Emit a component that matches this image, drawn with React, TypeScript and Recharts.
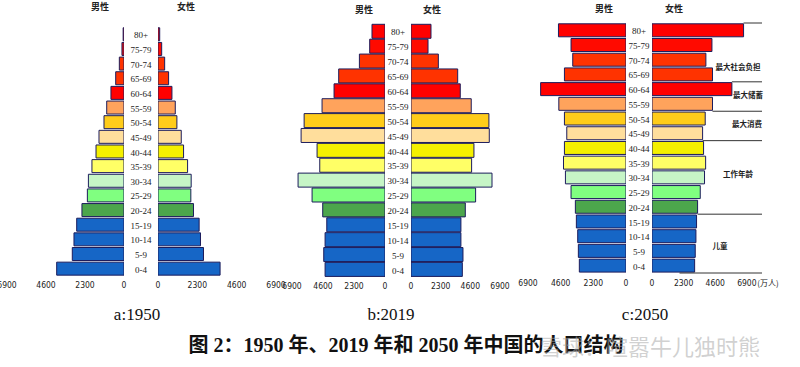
import React from "react";
import { Bar, BarChart, Cell, ReferenceLine, XAxis, YAxis } from "recharts";

// age groups, top to bottom
const ages = [
  "80+", "75-79", "70-74", "65-69", "60-64", "55-59", "50-54", "45-49", "40-44",
  "35-39", "30-34", "25-29", "20-24", "15-19", "10-14", "5-9", "0-4",
];

// 万人
const male1950 = [50, 120, 275, 490, 770, 1020, 1180, 1475, 1650, 1890, 2100, 2160, 2480, 2790, 2950, 3050, 3970];
const female1950 = [100, 215, 390, 620, 815, 1010, 1105, 1360, 1495, 1730, 1940, 1920, 2075, 2405, 2485, 2660, 3630];
const male2019 = [965, 1135, 1900, 3435, 3780, 4670, 6000, 6225, 5040, 4840, 6450, 5410, 4620, 4320, 4445, 4545, 4445];
const female2019 = [1550, 1320, 2120, 3620, 3820, 4670, 6040, 6070, 4880, 4700, 6280, 5010, 4210, 3870, 3870, 4030, 3980];
const male2050 = [4755, 3870, 3750, 4335, 6010, 4730, 4335, 4170, 4335, 4400, 4265, 3870, 3565, 3495, 3400, 3355, 3285];
const female2050 = [6660, 4360, 3920, 4400, 5810, 4400, 3870, 3680, 3750, 3900, 3820, 3510, 3315, 3240, 3195, 3145, 3100];

const axisTicks = [0, 2300, 4600, 6900];

// 2050 brackets on the right
const bracketRows = ["80+", "60-64", "50-54", "40-44", "15-19", "0-4"];
const bracketEdges = ["start", "start", "start", "start", "start", "end"];
const bracketFrom = [6660, 5810, 4400, 3680, 3315, 2000];
const bracketLabels = ["最大社会负担", "最大储蓄", "最大消费", "工作年龄", "儿童"];

const ageColors = [
  "#ff0000", "#ff0a00", "#ff3300", "#ff3300", "#ff0000", "#ffa35c", "#ffcc1a", "#ffde9c",
  "#f5f000", "#ffff66", "#c6f5c6", "#80ff80", "#4ca64c", "#1666c6", "#1666c6", "#1666c6", "#1666c6",
];

interface Row {
  age: string;
  male: number;
  female: number;
}

const toRows = (male: number[], female: number[]): Row[] =>
  ages.map((age, i) => ({ age, male: male[i], female: female[i] }));

const tickFont = { fontSize: 8.5, fill: "#222", fontFamily: "'Liberation Sans Narrow', 'DejaVu Sans Condensed', sans-serif" };

interface HalfProps {
  rows: Row[];
  side: "male" | "female";
  plotLeft: number;
  plotTop: number;
  plotWidth: number;
  plotHeight: number;
  max: number;
  gap?: number;
  tickMargin: number;
  catGap: number;
  children?: React.ReactNode;
}

const PAD = 20;
const AXIS_H = 16;

const Half = ({ rows, side, plotLeft, plotTop, plotWidth, plotHeight, max, gap = 0, tickMargin, catGap, children }: HalfProps) => {
  const male = side === "male";
  const width = PAD + plotWidth + gap + PAD;
  return (
    <div style={{ position: "absolute", left: plotLeft - PAD, top: plotTop - 5 }}>
      <BarChart
        width={width}
        height={5 + plotHeight + AXIS_H}
        layout="vertical"
        data={rows}
        margin={{ top: 5, bottom: 0, left: PAD, right: PAD }}
        barCategoryGap={catGap}
      >
        <XAxis
          type="number"
          domain={[0, max]}
          ticks={axisTicks}
          interval={0}
          reversed={male}
          axisLine={false}
          tickLine={false}
          tickSize={0}
          tickMargin={tickMargin}
          height={AXIS_H}
          tick={tickFont}
          allowDataOverflow
        />
        <YAxis
          type="category"
          dataKey="age"
          orientation="right"
          hide={!male}
          width={male ? gap : 0}
          axisLine={false}
          tickLine={false}
          tickSize={0}
          tickMargin={0}
          interval={0}
          tick={(p: any) => (
            <text
              x={p.x + gap / 2}
              y={p.y}
              dy={4}
              textAnchor="middle"
              fontSize={9}
              fill="#222"
              fontFamily="'Liberation Serif', serif"
            >
              {p.payload.value}
            </text>
          )}
        />
        <Bar dataKey={side} isAnimationActive={false} stroke="#1c1c5c" strokeWidth={1}>
          {rows.map((r, i) => (
            <Cell key={r.age} fill={ageColors[i]} />
          ))}
        </Bar>
        {children}
      </BarChart>
    </div>
  );
};

const Label = ({ x, y, text, style }: { x: number; y: number; text: string; style?: React.CSSProperties }) => (
  <div
    style={{
      position: "absolute",
      left: x - 300,
      top: y - 15,
      width: 600,
      height: 30,
      lineHeight: "30px",
      textAlign: "center",
      whiteSpace: "nowrap",
      pointerEvents: "none",
      ...style,
    }}
  >
    {text}
  </div>
);

const headStyle: React.CSSProperties = {
  fontSize: 9,
  fontWeight: 700,
  color: "#222",
  fontFamily: "'Noto Sans CJK SC', sans-serif",
};

const noteStyle: React.CSSProperties = {
  fontSize: 7.5,
  fontWeight: 700,
  color: "#222",
  fontFamily: "'Noto Sans CJK SC', sans-serif",
};

const subStyle: React.CSSProperties = {
  fontSize: 17,
  color: "#111",
  fontFamily: "'Liberation Serif', serif",
};

export default function App() {
  const rows1950 = toRows(male1950, female1950);
  const rows2019 = toRows(male2019, female2019);
  const rows2050 = toRows(male2050, female2050);

  return (
    <div
      style={{
        position: "absolute",
        left: 0,
        top: 0,
        width: 800,
        height: 367,
        overflow: "hidden",
        background: "#fff",
      }}
    >
      {/* a: 1950 */}
      <Half rows={rows1950} side="male" plotLeft={7} plotTop={27} plotWidth={117} plotHeight={249} max={6900} gap={34} tickMargin={6} catGap={0.8} />
      <Half rows={rows1950} side="female" plotLeft={158} plotTop={27} plotWidth={118} plotHeight={249} max={6900} tickMargin={6} catGap={0.8} />

      {/* b: 2019 */}
      <Half rows={rows2019} side="male" plotLeft={292} plotTop={24} plotWidth={93} plotHeight={253} max={6900} gap={26} tickMargin={6} catGap={0.3} />
      <Half rows={rows2019} side="female" plotLeft={411} plotTop={24} plotWidth={89} plotHeight={253} max={6900} tickMargin={6} catGap={0.3} />

      {/* c: 2050 */}
      <Half rows={rows2050} side="male" plotLeft={528} plotTop={23} plotWidth={98} plotHeight={250} max={6900} gap={26} tickMargin={7} catGap={0.8} />
      <Half rows={rows2050} side="female" plotLeft={652} plotTop={23} plotWidth={110} plotHeight={250} max={8000} tickMargin={7} catGap={0.8}>
        {bracketRows.map((age, i) => (
          <ReferenceLine
            key={age}
            segment={[
              { x: bracketFrom[i], y: age },
              { x: 8000, y: age },
            ]}
            position={bracketEdges[i] as "start" | "end"}
            stroke="#333"
            strokeWidth={1}
            ifOverflow="visible"
          />
        ))}
      </Half>

      {/* headers */}
      <Label x={100} y={7} text="男性" style={headStyle} />
      <Label x={186} y={7} text="女性" style={headStyle} />
      <Label x={364} y={10} text="男性" style={headStyle} />
      <Label x={432} y={10} text="女性" style={headStyle} />
      <Label x={604} y={9} text="男性" style={headStyle} />
      <Label x={674} y={9} text="女性" style={headStyle} />

      {/* bracket labels */}
      <Label x={738} y={67} text={bracketLabels[0]} style={noteStyle} />
      <Label x={748} y={95} text={bracketLabels[1]} style={noteStyle} />
      <Label x={747} y={124} text={bracketLabels[2]} style={noteStyle} />
      <Label x={738} y={174} text={bracketLabels[3]} style={noteStyle} />
      <Label x={720} y={246} text={bracketLabels[4]} style={noteStyle} />
      <Label x={768} y={283} text="(万人)" style={{ ...noteStyle, fontWeight: 400, fontSize: 8 }} />

      {/* sub captions */}
      <Label x={137} y={315} text="a:1950" style={subStyle} />
      <Label x={391} y={315} text="b:2019" style={subStyle} />
      <Label x={645} y={315} text="c:2050" style={subStyle} />

      {/* title */}
      <Label
        x={406}
        y={345}
        text="图 2：1950 年、2019 年和 2050 年中国的人口结构"
        style={{
          fontSize: 20,
          fontWeight: 700,
          color: "#111",
          fontFamily: "'Liberation Serif', 'Noto Sans CJK SC', serif",
        }}
      />
      <Label
        x={650}
        y={345}
        text="雪球：喧嚣牛儿独时熊"
        style={{
          fontSize: 22,
          color: "rgba(170,170,170,0.55)",
          fontFamily: "'Noto Sans CJK SC', sans-serif",
        }}
      />
    </div>
  );
}
